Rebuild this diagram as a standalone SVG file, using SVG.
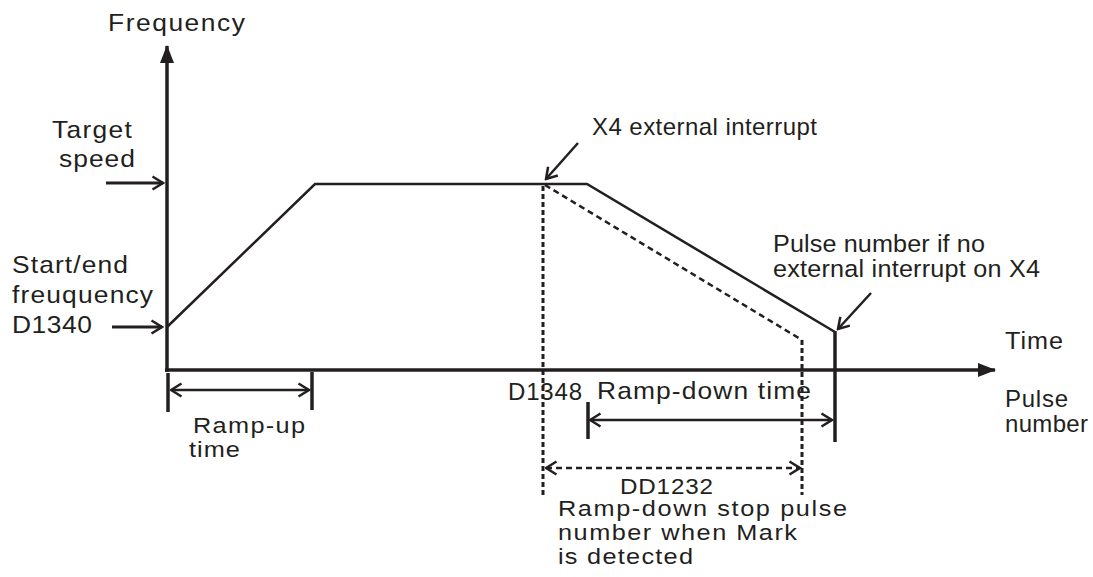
<svg xmlns="http://www.w3.org/2000/svg" width="1093" height="577" viewBox="0 0 1093 577">
<style>
.t{font-family:"Liberation Sans",Arial,sans-serif;font-size:24px;fill:#231f20}
.s{font-size:22px}
.ax{stroke:#231f20;stroke-width:3.5;fill:none}
.ln{stroke:#231f20;stroke-width:2.5;fill:none}
.tk{stroke:#231f20;stroke-width:3.5;fill:none}
.ar{stroke:#231f20;stroke-width:3;fill:none}
.ds{stroke:#231f20;stroke-width:3;stroke-dasharray:5 3;fill:none}
.dd{stroke:#231f20;stroke-width:2.5;stroke-dasharray:6 4;fill:none}
</style>
<defs>
<marker id="tri" markerUnits="userSpaceOnUse" viewBox="0 0 18 14" refX="17" refY="7" markerWidth="18" markerHeight="14" orient="auto">
<path d="M0,0 L18,7 L0,14 Z" fill="#231f20"/>
</marker>
<marker id="chev" markerUnits="userSpaceOnUse" viewBox="0 0 14 16" refX="12.5" refY="8" markerWidth="14" markerHeight="16" orient="auto-start-reverse">
<path d="M2,1.5 L12.5,8 L2,14.5" fill="none" stroke="#231f20" stroke-width="2.5" stroke-dasharray="none"/>
</marker>
</defs>

<g id="axes">
<line class="ax" x1="167" y1="372" x2="167" y2="46" marker-end="url(#tri)"/>
<line class="ax" x1="165" y1="370" x2="995" y2="370" marker-end="url(#tri)"/>
</g>

<g id="connectors">
<polyline class="ln" points="167,327 315,184 587,184 835,332"/>
<line class="tk" x1="835" y1="331" x2="835" y2="442"/>
<line class="dd" x1="545" y1="185" x2="802" y2="340"/>
<line class="ds" x1="543" y1="186" x2="543" y2="497"/>
<line class="ds" x1="802" y1="340" x2="802" y2="495"/>
<line class="tk" x1="168" y1="373" x2="168" y2="412"/>
<line class="tk" x1="312" y1="372" x2="312" y2="410"/>
<line class="ln" x1="171" y1="390" x2="309" y2="390" stroke-width="2" marker-start="url(#chev)" marker-end="url(#chev)"/>
<line class="tk" x1="588" y1="402" x2="588" y2="439"/>
<line class="ln" x1="590" y1="420" x2="832" y2="420" stroke-width="2" marker-start="url(#chev)" marker-end="url(#chev)"/>
<line class="dd" x1="546" y1="468" x2="800" y2="468" marker-start="url(#chev)" marker-end="url(#chev)"/>
<line class="ar" x1="106" y1="183" x2="163" y2="183" marker-end="url(#chev)"/>
<line class="ar" x1="112" y1="327" x2="162" y2="327" marker-end="url(#chev)"/>
<line class="ln" x1="578" y1="143" x2="546" y2="179" marker-end="url(#chev)"/>
<line class="ln" x1="871" y1="293" x2="838" y2="329" marker-end="url(#chev)"/>
</g>

<g id="label-frequency"><text class="t" transform="matrix(1.1 0 0 1 108 31)" textLength="124.5" lengthAdjust="spacing">Frequency</text></g>
<g id="label-target"><text class="t" transform="matrix(1.1 0 0 1 52 138)" textLength="72.7" lengthAdjust="spacing">Target</text><text class="t" transform="matrix(1.1 0 0 1 59 167)" textLength="69.1" lengthAdjust="spacing">speed</text></g>
<g id="label-start"><text class="t" transform="matrix(1.1 0 0 1 12 273)" textLength="105.5" lengthAdjust="spacing">Start/end</text><text class="t" transform="matrix(1.1 0 0 1 12 303)" textLength="128.2" lengthAdjust="spacing">freuquency</text><text class="t" transform="matrix(1.1 0 0 1 12 333)" textLength="72.7" lengthAdjust="spacing">D1340</text></g>
<g id="label-rampup"><text class="t s" transform="matrix(1.15 0 0 1 193 433)" textLength="97.4" lengthAdjust="spacing">Ramp-up</text><text class="t s" transform="matrix(1.15 0 0 1 189 457)" textLength="44.3" lengthAdjust="spacing">time</text></g>
<g id="label-x4"><text class="t" x="592" y="135" textLength="225" lengthAdjust="spacing">X4 external interrupt</text></g>
<g id="label-pulseno"><text class="t" transform="matrix(1.05 0 0 1 773 252)" textLength="201.9" lengthAdjust="spacing">Pulse number if no</text><text class="t" transform="matrix(1.05 0 0 1 773 277)" textLength="254.3" lengthAdjust="spacing">external interrupt on X4</text></g>
<g id="label-time"><text class="t" transform="matrix(1.05 0 0 1 1005 349)" textLength="55.2" lengthAdjust="spacing">Time</text></g>
<g id="label-pulse"><text class="t" x="1005" y="407" textLength="63" lengthAdjust="spacing">Pulse</text><text class="t" x="1005" y="432" textLength="83" lengthAdjust="spacing">number</text></g>
<g id="label-d1348"><text class="t" x="508" y="400" textLength="74" lengthAdjust="spacing">D1348</text></g>
<g id="label-rampdown"><text class="t" transform="matrix(1.1 0 0 1 597 399)" textLength="194.5" lengthAdjust="spacing">Ramp-down time</text></g>
<g id="label-dd1232"><text class="t s" transform="matrix(1.1 0 0 1 620 494)" textLength="84.5" lengthAdjust="spacing">DD1232</text></g>
<g id="label-stop"><text class="t s" transform="matrix(1.15 0 0 1 558 516)" textLength="251.3" lengthAdjust="spacing">Ramp-down stop pulse</text><text class="t s" transform="matrix(1.15 0 0 1 558 540)" textLength="207.8" lengthAdjust="spacing">number when Mark</text><text class="t s" transform="matrix(1.15 0 0 1 558 564)" textLength="117.4" lengthAdjust="spacing">is detected</text></g>
</svg>
